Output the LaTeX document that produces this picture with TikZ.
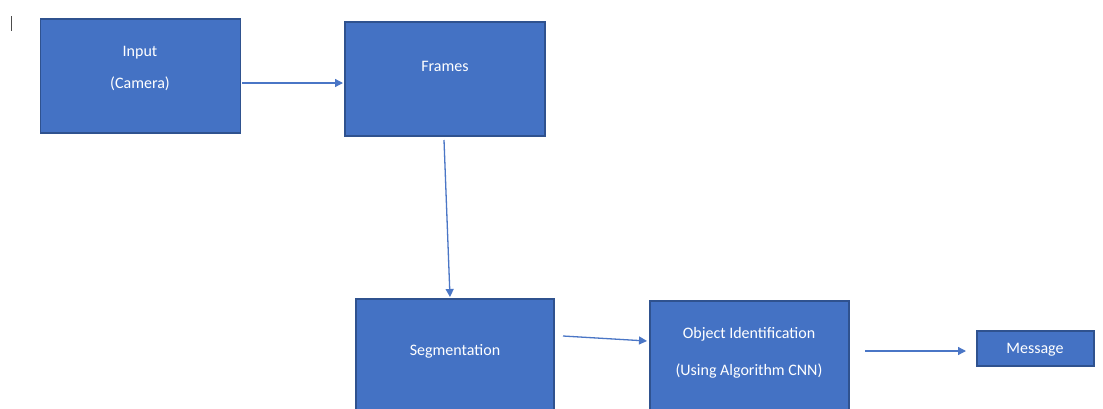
\documentclass[tikz,border=0pt]{standalone}
\usepackage{fontspec}
\setmainfont{Carlito}
\usetikzlibrary{arrows.meta}
\definecolor{boxfill}{HTML}{4472C4}
\definecolor{boxline}{HTML}{2F528F}
\definecolor{arrowc}{HTML}{4A76C6}
\tikzset{
  blockbox/.style={draw=boxline, line width=1.2pt, fill=boxfill, rectangle, inner sep=0pt},
  lbl/.style={text=white, font=\fontsize{16pt}{18pt}\selectfont, inner sep=0pt, anchor=center},
  conn/.style={draw=arrowc, line width=1.3pt, -{Triangle[length=8pt,width=8pt]}}
}
\begin{document}
\begin{tikzpicture}[x=1pt,y=-1pt]
\useasboundingbox (0,0) rectangle (1103,408);
\clip (0,0) rectangle (1103,408);
\fill[white] (0,0) rectangle (1103,408);
% cursor mark
\draw[line width=1pt, black!70] (11,16) -- (11,31);
% boxes
\node[blockbox, minimum width=200pt, minimum height=114pt] (input) at (140.5,76) {};
\node[blockbox, minimum width=200pt, minimum height=114pt] (frames) at (445,79) {};
\node[blockbox, minimum width=198pt, minimum height=124pt] (seg) at (455,361) {};
\node[blockbox, minimum width=199pt, minimum height=122pt] (obj) at (749.5,362) {};
\node[blockbox, minimum width=117pt, minimum height=35pt] (msg) at (1035.5,348.5) {};
% labels
\node[lbl] (t1) at (140,53) {Input};
\node[lbl] (t2) at (140,84) {(Camera)};
\node[lbl] (t3) at (445,66) {Frames};
\node[lbl] (t4) at (455,351) {Segmentation};
\node[lbl] (t5) at (749,334) {Object Identification};
\node[lbl] (t6) at (749,371) {(Using Algorithm CNN)};
\node[lbl] (t7) at (1035,350) {Message};
% connectors
\coordinate (a1s) at (242,83);
\coordinate (a1e) at (343,83);
\draw[conn] (a1s) -- (a1e);
\coordinate (a2s) at (444,140);
\coordinate (a2e) at (450,297);
\draw[conn] (a2s) -- (a2e);
\coordinate (a3s) at (563,336);
\coordinate (a3e) at (647,341);
\draw[conn] (a3s) -- (a3e);
\coordinate (a4s) at (865,351);
\coordinate (a4e) at (966,351);
\draw[conn] (a4s) -- (a4e);
\end{tikzpicture}
\end{document}
